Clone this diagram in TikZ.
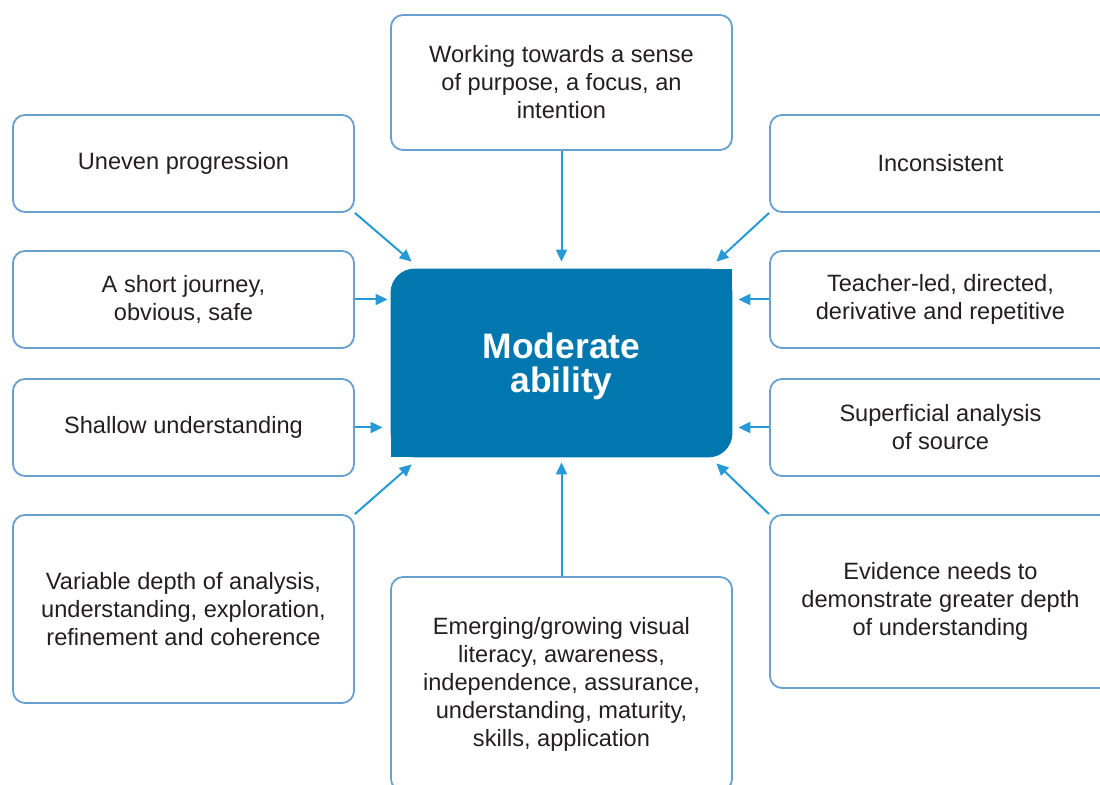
\documentclass[tikz,border=0pt]{standalone}
\usepackage{fontspec}
\setmainfont{Liberation Sans}
\usetikzlibrary{arrows.meta, calc, backgrounds}

\definecolor{midblue}{RGB}{0,119,174}
\definecolor{arrowblue}{RGB}{38,154,214}
\definecolor{boxline}{RGB}{104,160,208}
\definecolor{txt}{RGB}{35,31,32}

\tikzset{
  box/.style = {draw=boxline, line width=0.9pt, rounded corners=6pt,
    minimum width=170.5pt, minimum height=48.5pt, inner sep=0pt,
    align=center, text=txt, font=\fontsize{11.8}{14}\selectfont},
  conn/.style = {draw=arrowblue, line width=1pt,
    -{Triangle[length=6pt,width=5.5pt]}}
}

\begin{document}
\begin{tikzpicture}[x=0.5pt, y=-0.5pt]
            \useasboundingbox (0,0) rectangle (1100,785);
            % centre block
            \node (mid) at (561.5,363) [minimum width=170.5pt, minimum height=94pt,
              inner sep=0pt, align=center, text=white, text depth=0pt,
              font=\bfseries\fontsize{17.7}{17}\selectfont] {Moderate\\ability};
            \begin{scope}[on background layer]
              \fill[midblue, rounded corners=12pt] (mid.south west) rectangle (mid.north east);
              \fill[midblue] (mid.north east) rectangle (mid.center);
              \fill[midblue] (mid.south west) rectangle (mid.center);
            \end{scope}
            % surrounding boxes
            \node (top) at (561.5,82.5) [box, minimum height=67.5pt]
              {Working towards a sense\\of purpose, a focus, an\\intention};
            \node (l1) at (183.5,163.5) [box] {Uneven progression};
            \node (l2) at (183.5,299.5) [box] {A short journey,\\obvious, safe};
            \node (l3) at (183.5,427.5) [box] {Shallow understanding};
            \node (l4) at (183.5,609) [box, minimum height=94pt]
              {Variable depth of analysis,\\understanding, exploration,\\refinement and coherence};
            \node (r1) at (940.5,163.5) [box] {Inconsistent};
            \node (r2) at (940.5,299.5) [box] {Teacher-led, directed,\\derivative and repetitive};
            \node (r3) at (940.5,427.5) [box] {Superficial analysis\\of source};
            \node (r4) at (940.5,601.5) [box, minimum height=86.5pt]
              {Evidence needs to\\demonstrate greater depth\\of understanding};
            \node (bot) at (561.5,684) [box, minimum height=107pt]
              {Emerging/growing visual\\literacy, awareness,\\independence, assurance,\\understanding, maturity,\\skills, application};
            % connectors
            \draw[conn, shorten >=3.5pt] (top) -- (mid);
            \draw[conn, shorten >=2.5pt] (bot) -- (mid);
            \draw[conn] (l1.south east) -- ($(mid.north west)+(21,-7)$);
            \draw[conn] (l4.north east) -- ($(mid.south west)+(21,7)$);
            \draw[conn] (r1.south west) -- ($(mid.north east)+(-16,-7)$);
            \draw[conn] (r4.north west) -- ($(mid.south east)+(-16,6)$);
            \draw[conn, shorten >=1.5pt] (l2.east) -- (l2.east -| mid.west);
            \draw[conn, shorten >=4pt] (l3.east) -- (l3.east -| mid.west);
            \draw[conn, shorten >=3pt] (r2.west) -- (r2.west -| mid.east);
            \draw[conn, shorten >=3pt] (r3.west) -- (r3.west -| mid.east);
        \end{tikzpicture}
\end{document}
